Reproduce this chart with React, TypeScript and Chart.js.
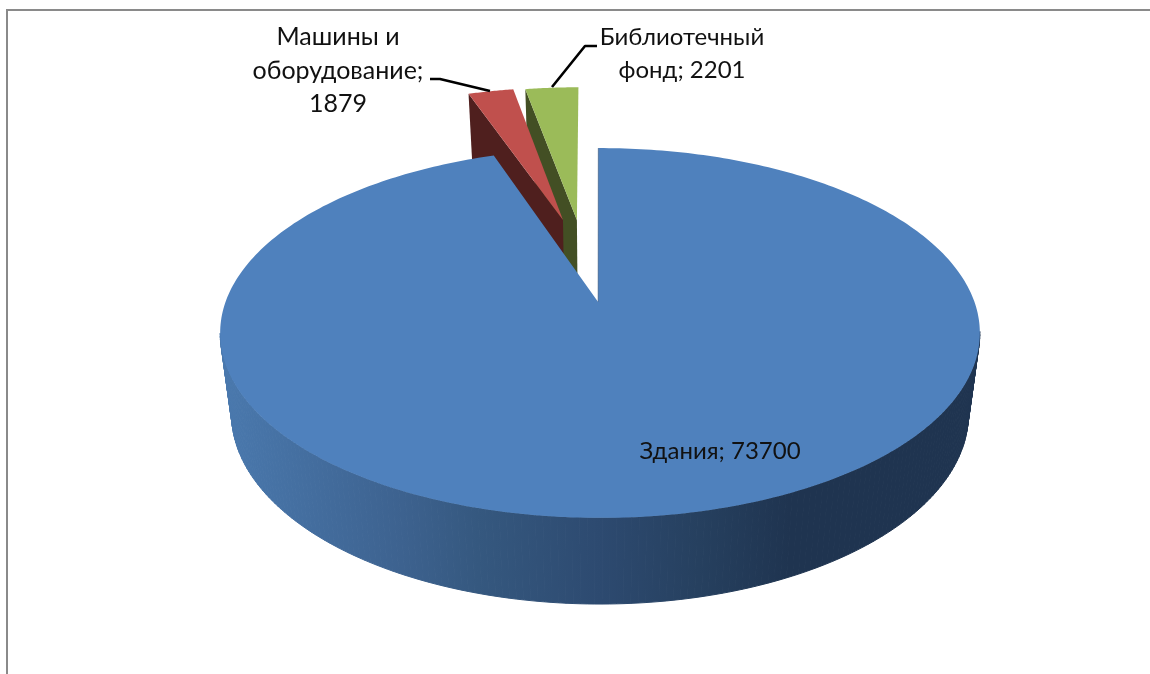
import React, { useEffect, useRef } from "react";
import { Chart, registerables } from "chart.js";

Chart.register(...registerables);

const categories = ["Здания", "Машины и оборудование", "Библиотечный фонд"];
const values = [73700, 1879, 2201];
const labelLines = [
  ["Здания; 73700"],
  ["Машины и", "оборудование;", "1879"],
  ["Библиотечный", "фонд; 2201"],
];
const topColors = ["#4f81bd", "#c0504d", "#9bbb59"];
const wallColors = ["#2d4a70", "#4f1f1e", "#434f24"];

// style of the exploded view (disc units / degrees)
const explodeAmount = [0, 0.505, 0.499];
const explodeTilt = [0, -2.6, 2.3];
const labelAnchors = [
  { x: 720, y: 451, size: 24 },
  { x: 338, y: 37, size: 25 },
  { x: 682, y: 37, size: 24 },
];
const leaders = [
  [],
  [[430, 79], [440, 79], [490, 91]],
  [[597, 46], [585, 46], [552, 87]],
];

const KX = 1.24;
const KY = 0.595;
const PERSP = 0.1676;
const LOW_SCALE = 0.97;
const LOW_DROP = 80;
const LOW_KY = 0.612;
const FONT = "Lato, 'Noto Sans', sans-serif";
const LINE_H = 33.5;

const pie3d = {
  id: "pie3d",
  beforeDatasetsDraw(chart: any) {
    const ctx = chart.ctx;
    const arcs = chart.getDatasetMeta(0).data;
    const first = arcs[0];
    const R = first.outerRadius;
    const cx = first.x;
    const cy = first.y;
    const top = (u: number, v: number) => {
      const w = 1 + PERSP * v;
      return [cx + (R * KX * u) / w, cy - (R * KY * v) / w];
    };
    const low = (u: number, v: number) => {
      const w = 1 + PERSP * v;
      return [cx + (R * KX * LOW_SCALE * u) / w, cy + LOW_DROP - (R * LOW_KY * v) / w];
    };
    const poly = (pts: number[][]) => {
      ctx.beginPath();
      pts.forEach((p, i) => (i ? ctx.lineTo(p[0], p[1]) : ctx.moveTo(p[0], p[1])));
      ctx.closePath();
    };
    const slice = (i: number) => {
      const a = arcs[i];
      const mid = (a.startAngle + a.endAngle) / 2 - (explodeTilt[i] * Math.PI) / 180;
      const eu = explodeAmount[i] * Math.cos(mid);
      const ev = -explodeAmount[i] * Math.sin(mid);
      return { a, eu, ev };
    };
    ctx.save();
    // exploded slices, back to front
    [2, 1].forEach((i) => {
      const { a, eu, ev } = slice(i);
      const su = eu + Math.cos(a.startAngle);
      const sv = ev - Math.sin(a.startAngle);
      poly([top(su, sv), top(eu, ev), low(eu, ev), low(su, sv)]);
      ctx.fillStyle = wallColors[i];
      ctx.fill();
      const pts = [top(eu, ev)];
      for (let k = 0; k <= 24; k++) {
        const t = a.startAngle + ((a.endAngle - a.startAngle) * k) / 24;
        pts.push(top(eu + Math.cos(t), ev - Math.sin(t)));
      }
      poly(pts);
      ctx.fillStyle = topColors[i];
      ctx.fill();
    });
    // main slice: wall (front half only) then top
    const a = arcs[0];
    const grad = ctx.createLinearGradient(220, 0, 980, 0);
    grad.addColorStop(0, "#4a79ae");
    grad.addColorStop(0.24, "#3d628f");
    grad.addColorStop(0.34, "#35587f");
    grad.addColorStop(0.5, "#2d4a70");
    grad.addColorStop(0.63, "#26405f");
    grad.addColorStop(0.75, "#1f3450");
    grad.addColorStop(1, "#1f3450");
    ctx.fillStyle = grad;
    ctx.strokeStyle = grad;
    ctx.lineWidth = 1;
    const N = 360;
    for (let k = 0; k < N; k++) {
      const t0 = a.startAngle + ((a.endAngle - a.startAngle) * k) / N;
      const t1 = a.startAngle + ((a.endAngle - a.startAngle) * (k + 1)) / N;
      const c0 = Math.cos(t0), s0 = -Math.sin(t0), c1 = Math.cos(t1), s1 = -Math.sin(t1);
      if (s0 > -PERSP + 0.01 || s1 > -PERSP + 0.01) continue;
      poly([top(c0, s0), top(c1, s1), low(c1, s1), low(c0, s0)]);
      ctx.fill();
      ctx.stroke();
    }
    const hub = top(-0.005, 0);
    const pts = [hub];
    for (let k = 0; k <= N; k++) {
      const t = a.startAngle + ((a.endAngle - a.startAngle) * k) / N;
      pts.push(top(Math.cos(t), -Math.sin(t)));
    }
    poly(pts);
    ctx.fillStyle = topColors[0];
    ctx.fill();
    ctx.strokeStyle = "rgba(45,74,112,0.55)";
    ctx.lineWidth = 1;
    ctx.beginPath();
    ctx.moveTo(pts[1][0], pts[1][1]);
    ctx.lineTo(hub[0], hub[1]);
    ctx.stroke();
    // leaders
    ctx.strokeStyle = "#000";
    ctx.lineWidth = 2.6;
    ctx.lineJoin = "round";
    leaders.forEach((l) => {
      if (!l.length) return;
      ctx.beginPath();
      l.forEach((p, i) => (i ? ctx.lineTo(p[0], p[1]) : ctx.moveTo(p[0], p[1])));
      ctx.stroke();
    });
    // labels
    ctx.fillStyle = "#111";
    ctx.textAlign = "center";
    ctx.textBaseline = "middle";
    labelLines.forEach((lines, i) => {
      ctx.font = labelAnchors[i].size + "px " + FONT;
      lines.forEach((t, j) => ctx.fillText(t, labelAnchors[i].x, labelAnchors[i].y + j * LINE_H));
    });
    ctx.restore();
    return false;
  },
};

export default function App() {
  const ref = useRef<HTMLCanvasElement>(null);
  useEffect(() => {
    const chart = new Chart(ref.current!, {
      type: "pie",
      data: {
        labels: categories,
        datasets: [{ data: values, backgroundColor: topColors, borderWidth: 0 }],
      },
      options: {
        responsive: false,
        animation: false,
        rotation: -0.3,
        layout: { padding: { left: 50, bottom: 70 } },
        plugins: { legend: { display: false }, tooltip: { enabled: false }, title: { display: false } },
      },
      plugins: [pie3d],
    } as any);
    return () => chart.destroy();
  }, []);
  return (
    <div style={{ position: "absolute", left: 0, top: 0, width: 1150, height: 674, overflow: "hidden", background: "#fff" }}>
      <canvas ref={ref} width={1150} height={674} style={{ display: "block", width: 1150, height: 674 }} />
      <div style={{ position: "absolute", left: 6, top: 9, right: 0, bottom: 0, borderTop: "2px solid #8a8a8a", borderLeft: "2px solid #8a8a8a" }} />
    </div>
  );
}
